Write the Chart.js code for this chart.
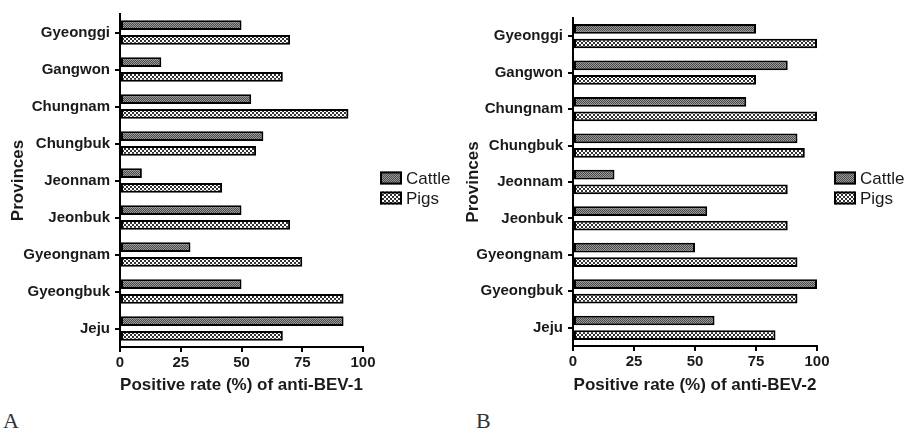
<!DOCTYPE html>
<html><head><meta charset="utf-8">
<script src="https://cdn.jsdelivr.net/npm/chart.js@4.4.1/dist/chart.umd.min.js"></script>
<style>
html,body{margin:0;padding:0;background:#fff}
body{width:910px;height:434px;overflow:hidden;position:relative}
.wrap{position:absolute;top:0;width:455px;height:400px}
.lbl{position:absolute;font-family:"Liberation Serif","DejaVu Serif",serif;font-size:22px;line-height:22px;color:#333}
</style></head><body>
<div class="wrap" style="left:0"><canvas id="chartA" width="455" height="400"></canvas></div>
<div class="wrap" style="left:455px"><canvas id="chartB" width="455" height="400"></canvas></div>
<div class="lbl" style="left:3px;top:410px">A</div>
<div class="lbl" style="left:476px;top:410px">B</div>
<script>
// ---- data ----
const provinces = ["Gyeonggi","Gangwon","Chungnam","Chungbuk","Jeonnam","Jeonbuk","Gyeongnam","Gyeongbuk","Jeju"];
const seriesNames = ["Cattle","Pigs"];
const bev1Cattle = [50, 17, 54, 59, 9, 50, 29, 50, 92];
const bev1Pigs   = [70, 67, 94, 56, 42, 70, 75, 92, 67];
const bev2Cattle = [75, 88, 71, 92, 17, 55, 50, 100, 58];
const bev2Pigs   = [100, 75, 100, 95, 88, 88, 92, 92, 83];
const xTicks = [0, 25, 50, 75, 100];
const yTitle = "Provinces";
const xTitleA = "Positive rate (%) of anti-BEV-1";
const xTitleB = "Positive rate (%) of anti-BEV-2";

Chart.defaults.font.family = '"Liberation Sans", Arial, sans-serif';

function makePattern(c1, c2, size){
  const c = document.createElement('canvas');
  c.width = c.height = size*2;
  const x = c.getContext('2d');
  x.fillStyle = c1; x.fillRect(0,0,size*2,size*2);
  x.fillStyle = c2; x.fillRect(0,0,size,size); x.fillRect(size,size,size,size);
  return x.createPattern(c,'repeat');
}
const cattlePat = makePattern('#4a4a4a','#9a9a9a',1);
const pigsPat = makePattern('#ffffff','#333333',2);

const manualLegend = {
  id:'manualLegend',
  afterDraw(chart, args, opts){
    const ctx = chart.ctx;
    chart.data.datasets.forEach((ds,i)=>{
      const y = opts.y + i*opts.gap;
      ctx.save();
      ctx.fillStyle = ds.backgroundColor;
      ctx.fillRect(opts.x, y-6.5, 22, 13);
      ctx.lineWidth = 2; ctx.strokeStyle = '#000';
      ctx.strokeRect(opts.x+1, y-5.5, 20, 11);
      ctx.fillStyle = '#1a1a1a';
      ctx.font = '17px "Liberation Sans", Arial, sans-serif';
      ctx.textBaseline = 'middle';
      ctx.fillText(ds.label, opts.x+26, y+1);
      ctx.restore();
    });
  }
};

function build(id, cattle, pigs, xTitle, L){
  const ds = (label, data, pat) => ({
    label, data, backgroundColor: pat, borderColor:'#000', borderWidth:2,
    borderSkipped:false, categoryPercentage:0.8, barPercentage:0.667
  });
  return new Chart(document.getElementById(id), {
    type:'bar',
    data:{ labels: provinces, datasets:[ ds(seriesNames[0], cattle, cattlePat), ds(seriesNames[1], pigs, pigsPat) ] },
    options:{
      indexAxis:'y', responsive:false, animation:false,
      layout:{ padding:{ left:0, top:L.top, right:L.right, bottom:0 } },
      plugins:{ legend:{display:false}, tooltip:{enabled:false}, manualLegend:{ x:L.lx, y:178, gap:20 } },
      scales:{
        x:{
          min:0, max:100,
          afterBuildTicks(s){ s.ticks = xTicks.map(v=>({value:v})); },
          ticks:{ color:'#1a1a1a', font:{size:15, weight:'bold'}, padding:2 },
          grid:{ drawOnChartArea:false, drawTicks:true, tickLength:5, color:'#000', lineWidth:2 },
          border:{ color:'#000', width:2 },
          title:{ display:true, text:xTitle, color:'#1a1a1a', font:{size:17, weight:'bold'}, padding:{top:0, bottom:4} },
          afterFit(s){ s.height = L.xh; }
        },
        y:{
          ticks:{ color:'#1a1a1a', font:{size:15, weight:'bold'}, padding:5 },
          grid:{ offset:false, drawOnChartArea:false, drawTicks:true, tickLength:5, color:'#000', lineWidth:2 },
          border:{ color:'#000', width:2 },
          title:{ display:true, text:yTitle, color:'#1a1a1a', font:{size:17, weight:'bold'}, padding:{top:8, bottom:0} },
          afterFit(s){ s.width = L.yw; }
        }
      }
    },
    plugins:[manualLegend]
  });
}

build('chartA', bev1Cattle, bev1Pigs, xTitleA, {top:10, right:92, xh:53, yw:120, lx:380});
build('chartB', bev2Cattle, bev2Pigs, xTitleB, {top:18, right:93, xh:54, yw:118, lx:379});
</script>
</body></html>
